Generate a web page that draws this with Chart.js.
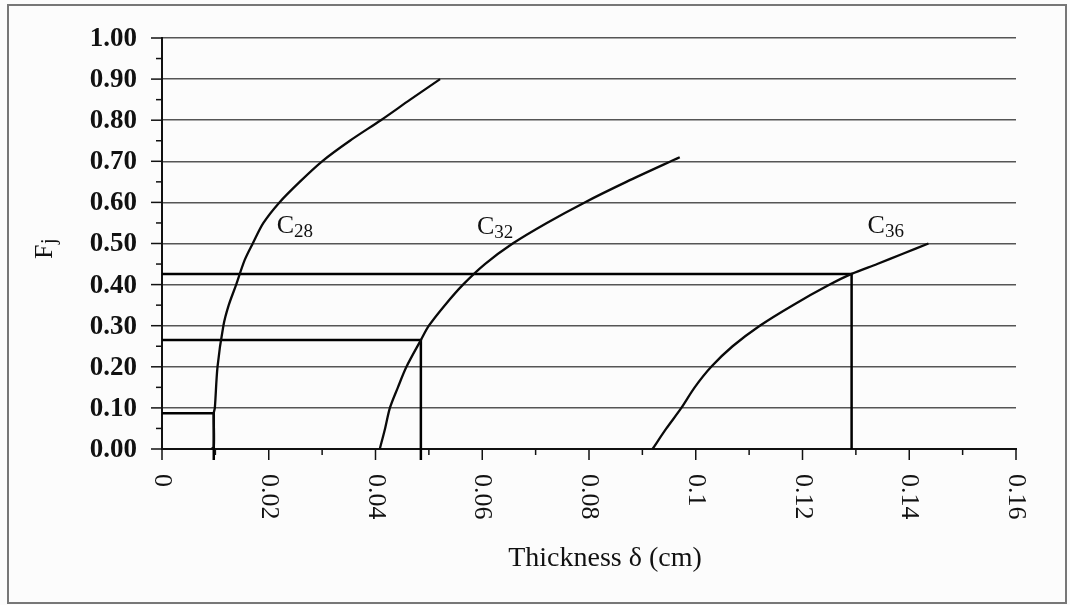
<!DOCTYPE html>
<html>
<head>
<meta charset="utf-8">
<script src="https://cdn.jsdelivr.net/npm/chart.js@4.4.0/dist/chart.umd.min.js"></script>
<style>
  html, body { margin: 0; padding: 0; background: #fcfcfc; }
</style>
</head>
<body>
<canvas id="chart" width="1070" height="605"></canvas>
<script>
// Fj against thickness (cm)
const c28X = [0.0092, 0.0097, 0.0097, 0.0099, 0.0104, 0.0115, 0.0125, 0.0139, 0.0155, 0.0170, 0.0190, 0.0220, 0.0258, 0.0300, 0.0352, 0.0410, 0.0465, 0.0521];
const c28F = [0.000, 0.005, 0.087, 0.100, 0.200, 0.300, 0.350, 0.400, 0.460, 0.500, 0.550, 0.600, 0.650, 0.700, 0.750, 0.800, 0.850, 0.900];

const c32X = [0.0408, 0.0418, 0.0427, 0.0442, 0.0458, 0.0485, 0.0500, 0.0530, 0.0564, 0.0605, 0.0657, 0.0721, 0.0792, 0.0870, 0.0970];
const c32F = [0.000, 0.050, 0.100, 0.150, 0.200, 0.265, 0.300, 0.350, 0.400, 0.450, 0.500, 0.550, 0.600, 0.650, 0.710];

const c36X = [0.0919, 0.0945, 0.0973, 0.0998, 0.1029, 0.1069, 0.1120, 0.1182, 0.1251, 0.1292, 0.1340, 0.1388, 0.1436];
const c36F = [0.000, 0.050, 0.100, 0.150, 0.200, 0.250, 0.300, 0.350, 0.400, 0.426, 0.450, 0.475, 0.500];

// read-off construction lines (horizontal to the curve, then down to the axis)
const refX = [[0, 0.0097, 0.0097], [0, 0.0485, 0.0485], [0, 0.1292, 0.1292]];
const refF = [[0.087, 0.087, -0.027], [0.265, 0.265, -0.027], [0.426, 0.426, 0]];

// curve names, with the data point their text starts at
const curveNames = ['C', 'C', 'C'];
const curveSubs = ['28', '32', '36'];
const curveLabelX = [0.0215, 0.0590, 0.1322];
const curveLabelF = [0.525, 0.522, 0.525];

const xTickVals = [0, 0.02, 0.04, 0.06, 0.08, 0.1, 0.12, 0.14, 0.16];
const xTickLabels = ['0', '0.02', '0.04', '0.06', '0.08', '0.1', '0.12', '0.14', '0.16'];
const yTickVals = [0, 0.1, 0.2, 0.3, 0.4, 0.5, 0.6, 0.7, 0.8, 0.9, 1.0];
const yTickLabels = ['0.00', '0.10', '0.20', '0.30', '0.40', '0.50', '0.60', '0.70', '0.80', '0.90', '1.00'];

const serif = '"Liberation Serif", "Times New Roman", serif';

const toPoints = (xs, ys) => xs.map((x, i) => ({ x: x, y: ys[i] }));

const curve = (xs, ys) => ({
  data: toPoints(xs, ys),
  showLine: true,
  borderColor: '#0a0a0a',
  borderWidth: 2.3,
  pointRadius: 0,
  tension: 0.3,
  clip: false
});

const refLine = (xs, ys) => ({
  data: toPoints(xs, ys),
  showLine: true,
  borderColor: '#000',
  borderWidth: 2.5,
  pointRadius: 0,
  tension: 0,
  clip: false
});

const datasets = [
  curve(c28X, c28F),
  curve(c32X, c32F),
  curve(c36X, c36F)
];
refX.forEach((xs, i) => datasets.push(refLine(xs, refF[i])));

// ticks, labels, titles and the outer frame
const decorations = {
  id: 'decorations',
  beforeDraw(chart) {
    const ctx = chart.ctx;
    ctx.save();
    ctx.fillStyle = '#fcfcfc';
    ctx.fillRect(0, 0, chart.width, chart.height);
    ctx.restore();
  },
  afterDraw(chart) {
    const ctx = chart.ctx;
    const xs = chart.scales.x;
    const ys = chart.scales.y;
    const left = chart.chartArea.left;
    const bottom = chart.chartArea.bottom;
    ctx.save();
    ctx.strokeStyle = '#111';
    ctx.lineWidth = 1.5;

    // x ticks: major every 0.02, minor every 0.01
    for (let i = 0; i <= 16; i++) {
      const px = xs.getPixelForValue(i / 100);
      const len = i % 2 === 0 ? 11 : 6;
      ctx.beginPath();
      ctx.moveTo(px, bottom);
      ctx.lineTo(px, bottom + len);
      ctx.stroke();
    }
    // y ticks: major every 0.1, minor every 0.05
    for (let i = 0; i <= 20; i++) {
      const py = ys.getPixelForValue(i / 20);
      const len = i % 2 === 0 ? 11 : 6;
      ctx.beginPath();
      ctx.moveTo(left, py);
      ctx.lineTo(left - len, py);
      ctx.stroke();
    }

    ctx.fillStyle = '#111';
    // y tick labels
    ctx.font = 'bold 27px ' + serif;
    ctx.textAlign = 'right';
    ctx.textBaseline = 'middle';
    yTickVals.forEach((v, i) => {
      ctx.fillText(yTickLabels[i], left - 25, ys.getPixelForValue(v) + 1);
    });

    // x tick labels, turned clockwise
    ctx.font = '26px ' + serif;
    ctx.textAlign = 'left';
    ctx.textBaseline = 'middle';
    xTickVals.forEach((v, i) => {
      ctx.save();
      ctx.translate(xs.getPixelForValue(v), bottom + 25);
      ctx.rotate(Math.PI / 2);
      ctx.fillText(xTickLabels[i], 0, 0);
      ctx.restore();
    });

    // axis titles
    ctx.font = '28px ' + serif;
    ctx.textAlign = 'center';
    ctx.textBaseline = 'alphabetic';
    ctx.fillText('Thickness \u03b4 (cm)', 605, 566);

    ctx.save();
    ctx.translate(52, 248);
    ctx.rotate(-Math.PI / 2);
    ctx.font = '26px ' + serif;
    ctx.textAlign = 'left';
    ctx.fillText('F', -11, 0);
    ctx.font = '20px ' + serif;
    ctx.fillText('j', 4, 3);
    ctx.restore();

    // curve names with subscripts
    ctx.textAlign = 'left';
    curveNames.forEach((name, i) => {
      const px = xs.getPixelForValue(curveLabelX[i]);
      const py = ys.getPixelForValue(curveLabelF[i]);
      ctx.font = '26px ' + serif;
      ctx.fillText(name, px, py);
      const w = ctx.measureText(name).width;
      ctx.font = '19px ' + serif;
      ctx.fillText(curveSubs[i], px + w, py + 4);
    });

    // outer frame
    ctx.strokeStyle = '#777';
    ctx.lineWidth = 2;
    ctx.strokeRect(8, 5, 1058, 598);
    ctx.restore();
  }
};

new Chart(document.getElementById('chart'), {
  type: 'scatter',
  data: { datasets: datasets },
  options: {
    responsive: false,
    animation: false,
    devicePixelRatio: 1,
    layout: { padding: { left: 0, top: 38, right: 54, bottom: 0 } },
    plugins: {
      legend: { display: false },
      tooltip: { enabled: false }
    },
    scales: {
      x: {
        type: 'linear',
        min: 0,
        max: 0.16,
        ticks: { display: false, stepSize: 0.02 },
        grid: { display: false },
        border: { display: true, color: '#111', width: 2 },
        afterFit: s => { s.height = 156; }
      },
      y: {
        type: 'linear',
        min: 0,
        max: 1,
        ticks: { display: false, stepSize: 0.1 },
        grid: { color: '#555', lineWidth: 1.5, drawTicks: false },
        border: { display: true, color: '#111', width: 2 },
        afterFit: s => { s.width = 162; }
      }
    }
  },
  plugins: [decorations]
});
</script>
</body>
</html>
